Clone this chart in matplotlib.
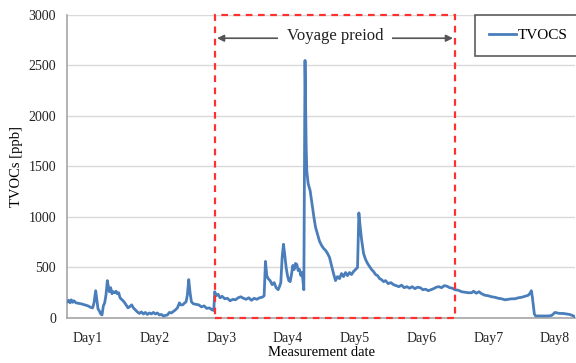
import matplotlib.pyplot as plt
from matplotlib.patches import Rectangle

plt.rcParams['font.family'] = ['Liberation Serif', 'DejaVu Serif']

# TVOC readings (ppb) against elapsed measurement time (days)
days = [
    0.685, 0.71, 0.73, 0.75, 0.77, 0.79, 0.82, 0.86, 0.90, 0.95, 1.00, 1.04, 1.07, 1.09,
    1.115, 1.13, 1.15, 1.17, 1.19, 1.21, 1.23, 1.25, 1.27, 1.29, 1.30, 1.32, 1.34, 1.36,
    1.38, 1.40, 1.42, 1.44, 1.46, 1.48, 1.51, 1.54, 1.57, 1.60, 1.63, 1.655, 1.68, 1.71,
    1.74, 1.77, 1.80, 1.83, 1.86, 1.89, 1.92, 1.95, 1.98, 2.01, 2.04, 2.07, 2.10, 2.13,
    2.16, 2.19, 2.22, 2.25, 2.28, 2.31, 2.34, 2.37, 2.39, 2.42, 2.45, 2.47, 2.49, 2.51,
    2.53, 2.55, 2.58, 2.62, 2.66, 2.70, 2.74, 2.78, 2.82, 2.86, 2.885, 2.90, 2.92, 2.95,
    2.98, 3.01, 3.05, 3.09, 3.13, 3.17, 3.21, 3.25, 3.29, 3.33, 3.37, 3.41, 3.45, 3.49,
    3.53, 3.57, 3.61, 3.64, 3.66, 3.68, 3.70, 3.73, 3.76, 3.79, 3.82, 3.85, 3.87, 3.89,
    3.91, 3.93, 3.95, 3.97, 3.99, 4.01, 4.03, 4.05, 4.07, 4.09, 4.11, 4.13, 4.15, 4.17,
    4.19, 4.21, 4.235, 4.253, 4.27, 4.28, 4.30, 4.33, 4.36, 4.39, 4.41, 4.44, 4.47, 4.50,
    4.53, 4.56, 4.59, 4.62, 4.65, 4.68, 4.71, 4.74, 4.77, 4.80, 4.83, 4.86, 4.89, 4.92,
    4.95, 4.98, 5.01, 5.04, 5.06, 5.08, 5.10, 5.13, 5.16, 5.19, 5.22, 5.25, 5.28, 5.31,
    5.34, 5.37, 5.40, 5.43, 5.46, 5.50, 5.54, 5.58, 5.62, 5.66, 5.70, 5.74, 5.78, 5.82,
    5.86, 5.90, 5.94, 5.98, 6.02, 6.06, 6.10, 6.14, 6.18, 6.22, 6.26, 6.30, 6.34, 6.38,
    6.42, 6.46, 6.50, 6.55, 6.60, 6.65, 6.70, 6.75, 6.78, 6.82, 6.86, 6.90, 6.95, 7.00,
    7.05, 7.10, 7.15, 7.20, 7.25, 7.30, 7.35, 7.40, 7.45, 7.50, 7.55, 7.60, 7.63, 7.645,
    7.66, 7.675, 7.69, 7.71, 7.80, 7.90, 7.95, 8.00, 8.03, 8.07, 8.12, 8.17, 8.22, 8.26,
    8.29,
]
tvocs = [
    160, 175, 150, 180, 155, 170, 150, 145, 140, 130, 120, 105, 100, 150,
    270, 190, 90, 70, 40, 30, 120, 150, 230, 370, 330, 260, 300, 240,
    260, 250, 265, 240, 250, 200, 180, 160, 130, 100, 115, 130, 100, 80,
    60, 45, 60, 40, 55, 35, 50, 40, 55, 40, 50, 30, 35, 20,
    25, 30, 55, 50, 65, 80, 100, 150, 130, 130, 150, 160, 230, 380,
    250, 160, 140, 135, 130, 110, 120, 95, 100, 80, 75, 260, 220, 235,
    200, 215, 190, 195, 170, 185, 180, 200, 210, 195, 185, 200, 175, 195,
    185, 200, 205, 220, 560, 420, 390, 370, 330, 350, 300, 280, 310, 350,
    600, 730, 620, 500, 420, 370, 360, 430, 520, 480, 540, 530, 470, 480,
    420, 450, 280, 2550, 1700, 1450, 1330, 1260, 1120, 980, 900, 830, 760, 720,
    690, 670, 640, 600, 520, 440, 370, 410, 390, 440, 410, 450, 420, 450,
    430, 460, 480, 500, 1040, 900, 780, 640, 580, 540, 510, 480, 460, 430,
    420, 390, 380, 360, 370, 340, 350, 330, 320, 310, 325, 300, 310, 295,
    310, 290, 305, 300, 280, 285, 270, 280, 290, 305, 310, 300, 320, 315,
    300, 295, 280, 275, 260, 255, 250, 250, 265, 245, 260, 240, 225, 220,
    210, 205, 195, 190, 180, 185, 190, 190, 200, 205, 215, 225, 250, 270,
    210, 120, 40, 20, 20, 20, 25, 55, 50, 45, 45, 40, 35, 25,
    15,
]

day_ticks = [1, 2, 3, 4, 5, 6, 7, 8]
day_labels = ['Day1', 'Day2', 'Day3', 'Day4', 'Day5', 'Day6', 'Day7', 'Day8']
voyage_start, voyage_end = 2.904, 6.50

fig = plt.figure(figsize=(5.76, 3.63), dpi=100)
ax = fig.add_axes([0.1163, 0.124, 0.882, 0.8347])

ax.plot(days, tvocs, color='#4A7EBB', lw=2.0, label='TVOCS', zorder=3)

ax.set_xlim(0.685, 8.30)
ax.set_ylim(0, 3000)
ax.set_yticks(range(0, 3001, 500))
ax.set_xticks(day_ticks)
ax.set_xticklabels(day_labels)
ax.tick_params(length=0, labelsize=10, colors='#222222')
ax.tick_params(axis='x', pad=10)
ax.tick_params(axis='y', pad=8)
ax.grid(axis='y', color='#D9D9D9', lw=1)
ax.set_axisbelow(True)
for side in ['top', 'right']:
    ax.spines[side].set_visible(False)
for side in ['left', 'bottom']:
    ax.spines[side].set_color('#A6A6A6')
    ax.spines[side].set_linewidth(1.2)

ax.set_ylabel('TVOCs [ppb]', fontsize=10.5, labelpad=4)
ax.set_xlabel('Measurement date', fontsize=10.5, labelpad=1)

# voyage window
box = Rectangle((voyage_start, 0), voyage_end - voyage_start, 3000,
                fill=False, edgecolor='#FF3030', lw=1.6, ls=(0, (3, 2.5)),
                clip_on=False, zorder=4)
ax.add_patch(box)
ax.annotate('', xy=(voyage_start + 0.03, 2770), xytext=(voyage_end - 0.03, 2770),
            arrowprops=dict(arrowstyle='<|-|>', color='#555555', lw=1.2,
                            mutation_scale=10, shrinkA=0, shrinkB=0), zorder=5)
ax.text((voyage_start + voyage_end) / 2, 2790, 'Voyage preiod', ha='center',
        va='center', fontsize=12, color='#222222', zorder=6,
        bbox=dict(facecolor='white', edgecolor='none', pad=6))

leg = ax.legend(loc='upper left', bbox_to_anchor=(0.803, 1.0), fontsize=11,
                frameon=True, fancybox=False, handlelength=1.8, handletextpad=0.1,
                borderpad=0.9, borderaxespad=0)
leg.get_frame().set_edgecolor('#333333')
leg.get_frame().set_linewidth(1.2)

fig.savefig('out.png', dpi=100)
